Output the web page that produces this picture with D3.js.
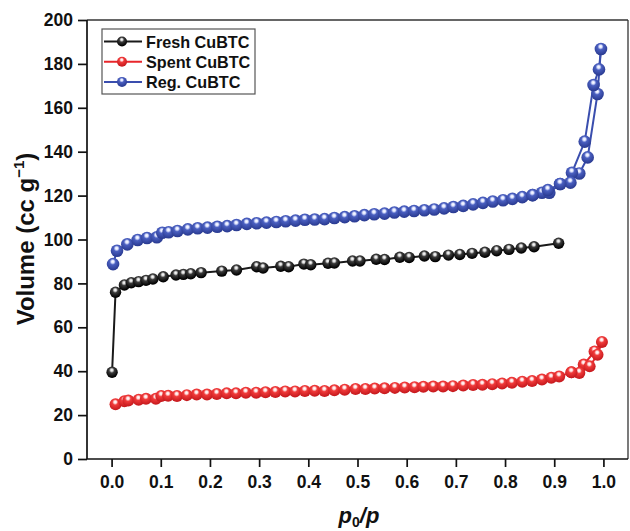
<!DOCTYPE html>
<html>
<head>
<meta charset="utf-8">
<script src="https://cdn.jsdelivr.net/npm/d3@7/dist/d3.min.js"></script>
<style>
  html, body { margin: 0; padding: 0; background: #fff; }
  svg { display: block; font-family: "Liberation Sans", Arial, sans-serif; }
</style>
</head>
<body>
<svg id="chart" width="630" height="531"></svg>
<script>
// ---------- data ----------
const xTicks = [0.0, 0.1, 0.2, 0.3, 0.4, 0.5, 0.6, 0.7, 0.8, 0.9, 1.0];
const yTicks = [0, 20, 40, 60, 80, 100, 120, 140, 160, 180, 200];

const freshX = [0.001, 0.008, 0.026, 0.040, 0.055, 0.070, 0.084, 0.105, 0.131, 0.146, 0.161, 0.182, 0.224, 0.254, 0.295, 0.308, 0.344, 0.360, 0.391, 0.405, 0.440, 0.453, 0.490, 0.505, 0.538, 0.555, 0.586, 0.605, 0.636, 0.658, 0.685, 0.708, 0.733, 0.759, 0.783, 0.808, 0.833, 0.859, 0.909];
const freshY = [39.5, 76.0, 79.3, 80.3, 80.8, 81.4, 82.0, 83.0, 83.8, 84.1, 84.4, 84.9, 85.6, 86.1, 87.6, 87.0, 87.8, 87.6, 88.8, 88.5, 89.2, 89.3, 90.2, 90.2, 91.0, 90.9, 91.9, 91.8, 92.5, 92.2, 92.9, 93.2, 93.7, 94.2, 94.9, 95.5, 96.1, 96.7, 98.3];

const spentAdsX = [0.008, 0.026, 0.034, 0.055, 0.070, 0.090, 0.101, 0.115, 0.133, 0.153, 0.173, 0.194, 0.214, 0.234, 0.253, 0.273, 0.294, 0.313, 0.333, 0.353, 0.373, 0.393, 0.413, 0.433, 0.453, 0.474, 0.496, 0.516, 0.535, 0.555, 0.576, 0.596, 0.616, 0.634, 0.654, 0.674, 0.694, 0.715, 0.735, 0.754, 0.774, 0.794, 0.814, 0.835, 0.855, 0.875, 0.894, 0.910, 0.935, 0.960, 0.982, 0.997];
const spentAdsY = [24.9, 26.3, 26.6, 27.0, 27.4, 27.4, 28.7, 28.8, 28.7, 29.1, 29.4, 29.4, 29.6, 29.9, 29.9, 30.2, 30.2, 30.4, 30.5, 30.8, 30.8, 31.0, 31.1, 31.0, 31.3, 31.6, 31.9, 31.9, 32.1, 32.2, 32.4, 32.6, 32.7, 32.9, 33.0, 33.0, 33.2, 33.5, 33.7, 33.8, 34.1, 34.4, 34.7, 35.2, 35.5, 36.2, 37.0, 37.6, 39.5, 43.0, 49.0, 53.3];
const spentDesX = [0.997, 0.988, 0.972, 0.951, 0.935];
const spentDesY = [53.3, 47.5, 42.2, 39.2, 39.5];

const regAdsX = [0.003, 0.011, 0.032, 0.053, 0.072, 0.092, 0.103, 0.116, 0.134, 0.155, 0.175, 0.195, 0.215, 0.235, 0.254, 0.275, 0.295, 0.315, 0.335, 0.354, 0.374, 0.393, 0.413, 0.433, 0.453, 0.474, 0.494, 0.514, 0.534, 0.555, 0.575, 0.595, 0.615, 0.636, 0.656, 0.676, 0.695, 0.715, 0.735, 0.755, 0.775, 0.796, 0.815, 0.835, 0.856, 0.875, 0.890, 0.912, 0.951, 0.968, 0.988, 0.995];
const regAdsY = [88.8, 94.9, 97.8, 99.8, 100.7, 101.0, 103.1, 103.3, 103.9, 104.6, 105.1, 105.4, 105.8, 106.1, 106.6, 107.1, 107.4, 107.7, 108.0, 108.3, 108.6, 109.0, 109.1, 109.3, 109.8, 110.2, 110.6, 111.1, 111.5, 111.8, 112.3, 112.7, 113.0, 113.3, 113.7, 114.2, 114.8, 115.3, 116.0, 116.7, 117.3, 117.9, 118.5, 119.3, 120.2, 121.3, 121.3, 125.3, 130.1, 137.4, 166.3, 186.8];
const regDesX = [0.995, 0.991, 0.980, 0.962, 0.936, 0.933, 0.912, 0.887, 0.856];
const regDesY = [186.8, 177.5, 170.4, 144.6, 130.4, 125.9, 125.3, 122.5, 120.2];

const seriesNames = ["Fresh CuBTC", "Spent CuBTC", "Reg. CuBTC"];
const seriesColors = ["#1a1a1a", "#e8262b", "#3a4eae"];

// ---------- layout ----------
const svg = d3.select("#chart");
const mLeft = 87, mRight = 628, mTop = 20, mBottom = 459;
const x = d3.scaleLinear().domain([-0.05, 1.05]).range([mLeft, mRight]);
const y = d3.scaleLinear().domain([0, 200]).range([mBottom, mTop]);

// gradients for sphere markers
const defs = svg.append("defs");
const gradSpec = [
  {id: "g0", light: "#d8d8d8", mid: "#3a3a3a", dark: "#000000"},
  {id: "g1", light: "#ffe0e0", mid: "#f03a3a", dark: "#c81b1f"},
  {id: "g2", light: "#dfe5ff", mid: "#4a5fc0", dark: "#2c3d94"}
];
gradSpec.forEach(g => {
  const rg = defs.append("radialGradient").attr("id", g.id)
    .attr("cx", "45%").attr("cy", "35%").attr("r", "60%").attr("fx", "48%").attr("fy", "30%");
  rg.append("stop").attr("offset", "0%").attr("stop-color", "#ffffff");
  rg.append("stop").attr("offset", "18%").attr("stop-color", g.light);
  rg.append("stop").attr("offset", "40%").attr("stop-color", g.mid);
  rg.append("stop").attr("offset", "100%").attr("stop-color", g.dark);
});

// frame (top & right)
svg.append("line").attr("x1", mLeft).attr("x2", mRight).attr("y1", mTop).attr("y2", mTop)
  .attr("stroke", "#333").attr("stroke-width", 1.6);
svg.append("line").attr("x1", mRight).attr("x2", mRight).attr("y1", mTop).attr("y2", mBottom)
  .attr("stroke", "#333").attr("stroke-width", 1.3);

// axes
const xAxis = d3.axisBottom(x).tickValues(xTicks).tickFormat(d3.format(".1f")).tickSizeOuter(0).tickSize(8).tickPadding(9);
const yAxis = d3.axisLeft(y).tickValues(yTicks).tickFormat(d3.format("d")).tickSizeOuter(0).tickSize(9).tickPadding(5);

const gx = svg.append("g").attr("transform", `translate(0,${mBottom})`).call(xAxis);
const gy = svg.append("g").attr("transform", `translate(${mLeft},0)`).call(yAxis);
[gx, gy].forEach(g => {
  g.select(".domain").attr("stroke", "#111").attr("stroke-width", 1.7);
  g.selectAll(".tick line").attr("stroke", "#111").attr("stroke-width", 1.7);
  g.selectAll(".tick text").attr("fill", "#111").attr("font-size", 17.5).attr("font-weight", "bold")
    .attr("font-family", "'Liberation Sans', Arial, sans-serif");
});
gx.select(".domain").attr("d", `M${mLeft},0H${mRight}`);
gy.select(".domain").attr("d", `M0,${mBottom}V${mTop}`);

// series
const line = d3.line().x(d => x(d[0])).y(d => y(d[1]));
const zip = (a, b) => a.map((v, i) => [v, b[i]]);

const groups = [
  {lines: [zip(freshX, freshY)], pts: zip(freshX, freshY), c: 0, r: 5.7},
  {lines: [zip(spentAdsX, spentAdsY), zip(spentDesX, spentDesY)], pts: zip(spentAdsX, spentAdsY).concat(zip(spentDesX, spentDesY).slice(1)), c: 1, r: 6},
  {lines: [zip(regAdsX, regAdsY), zip(regDesX, regDesY)], pts: zip(regAdsX, regAdsY).concat(zip(regDesX, regDesY).slice(1)), c: 2, r: 6.3}
];

groups.forEach(gp => {
  const g = svg.append("g");
  gp.lines.forEach(l => {
    g.append("path").datum(l).attr("d", line).attr("fill", "none")
      .attr("stroke", seriesColors[gp.c]).attr("stroke-width", 2);
  });
  g.selectAll("circle").data(gp.pts).join("circle")
    .attr("cx", d => x(d[0])).attr("cy", d => y(d[1])).attr("r", gp.r)
    .attr("fill", `url(#g${gp.c})`);
});

// legend
const lg = svg.append("g");
lg.append("rect").attr("x", 102).attr("y", 29).attr("width", 153).attr("height", 65)
  .attr("fill", "#fff").attr("stroke", "#555").attr("stroke-width", 1.2);
seriesNames.forEach((name, i) => {
  const yy = 41.5 + i * 20.2;
  lg.append("line").attr("x1", 104).attr("x2", 142).attr("y1", yy).attr("y2", yy)
    .attr("stroke", seriesColors[i]).attr("stroke-width", 2);
  lg.append("circle").attr("cx", 122).attr("cy", yy).attr("r", 5).attr("fill", `url(#g${i})`);
  lg.append("text").attr("x", 146).attr("y", yy + 6).text(name)
    .attr("font-size", 16.2).attr("font-weight", "bold").attr("fill", "#111");
});

// axis titles
const yt = svg.append("text")
  .attr("transform", `translate(34,239) rotate(-90)`)
  .attr("text-anchor", "middle").attr("font-size", 24).attr("font-weight", "bold").attr("fill", "#111");
yt.append("tspan").text("Volume (cc g");
yt.append("tspan").text("\u22121").attr("font-size", 15).attr("dy", -10);
yt.append("tspan").text(")").attr("dy", 10);

const xt = svg.append("text")
  .attr("x", 359).attr("y", 523)
  .attr("text-anchor", "middle").attr("font-size", 22).attr("font-weight", "bold").attr("font-style", "italic").attr("fill", "#111");
xt.append("tspan").text("p");
xt.append("tspan").text("0").attr("font-size", 14).attr("dy", 4).attr("font-style", "normal");
xt.append("tspan").text("/p").attr("dy", -4);
</script>
</body>
</html>
